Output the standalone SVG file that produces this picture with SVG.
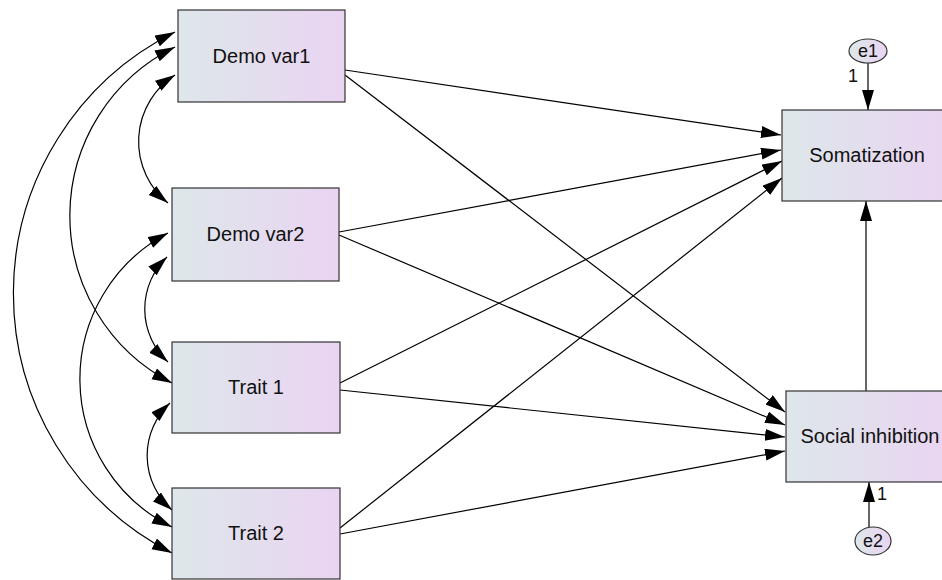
<svg xmlns="http://www.w3.org/2000/svg" width="942" height="580" viewBox="0 0 942 580">
<style>
.box{stroke:#333;stroke-width:1.2;fill:url(#g)}
.ell{stroke:#333;stroke-width:1.2;fill:url(#g)}
.t{font-family:"Liberation Sans",Arial,sans-serif;font-size:20px;fill:#111;text-anchor:middle}
.s{font-family:"Liberation Sans",Arial,sans-serif;font-size:18px;fill:#111;text-anchor:middle}
.c{fill:none;stroke:#000;stroke-width:1.2;marker-end:url(#a)}
.d{fill:none;stroke:#000;stroke-width:1.2;marker-end:url(#a);marker-start:url(#a)}
</style>
<defs>
<linearGradient id="g" x1="0" y1="0" x2="1" y2="0">
<stop offset="0" stop-color="#dde7ea"/>
<stop offset="1" stop-color="#ead4f2"/>
</linearGradient>
<marker id="a" markerUnits="userSpaceOnUse" markerWidth="22" markerHeight="14" refX="20" refY="6" orient="auto-start-reverse">
<path d="M0,0 L20,6 L0,12 z" fill="#000"/>
</marker>
</defs>
<g id="connectors">
<line class="c" x1="345" y1="70" x2="781" y2="135"/>
<line class="c" x1="339" y1="232" x2="781" y2="150"/>
<line class="c" x1="340" y1="383" x2="782" y2="161"/>
<line class="c" x1="340" y1="528" x2="782" y2="178"/>
<line class="c" x1="345" y1="75" x2="785" y2="412"/>
<line class="c" x1="339" y1="235" x2="785" y2="425"/>
<line class="c" x1="340" y1="390" x2="785" y2="437"/>
<line class="c" x1="340" y1="534" x2="785" y2="451"/>
<line class="c" x1="866" y1="391" x2="866" y2="201"/>
<line class="c" x1="868" y1="63" x2="868" y2="110"/>
<line class="c" x1="869" y1="527" x2="869" y2="482"/>
<path class="d" d="M175,75 A79,79 0 0 0 168,203"/>
<path class="d" d="M175,47 A188,188 0 0 0 172,383"/>
<path class="d" d="M175,32 A292,292 0 0 0 172,553"/>
<path class="d" d="M167,257 A72,72 0 0 0 168,362"/>
<path class="d" d="M168,233 A165,165 0 0 0 172,527"/>
<path class="d" d="M170,403 A72,72 0 0 0 172,510"/>
</g>
<g id="demo_var1"><rect class="box" x="178" y="10" width="167" height="92"/><text class="t" x="261.5" y="63">Demo var1</text></g>
<g id="demo_var2"><rect class="box" x="172" y="188" width="167" height="93"/><text class="t" x="255.5" y="241">Demo var2</text></g>
<g id="trait1"><rect class="box" x="172" y="342" width="168" height="91"/><text class="t" x="256" y="394">Trait 1</text></g>
<g id="trait2"><rect class="box" x="172" y="488" width="168" height="91"/><text class="t" x="256" y="540">Trait 2</text></g>
<g id="somatization"><rect class="box" x="782" y="110" width="170" height="91"/><text class="t" x="867" y="162">Somatization</text></g>
<g id="social_inhibition"><rect class="box" x="786" y="391" width="168" height="91"/><text class="t" x="870" y="443">Social inhibition</text></g>
<g id="e1"><ellipse class="ell" cx="868" cy="51" rx="19" ry="12"/><text class="s" x="868" y="57">e1</text></g>
<g id="e2"><ellipse class="ell" cx="873" cy="541" rx="18" ry="14"/><text class="s" x="873" y="547">e2</text></g>
<text class="s" x="853" y="82">1</text>
<text class="s" x="882" y="500">1</text>
</svg>
